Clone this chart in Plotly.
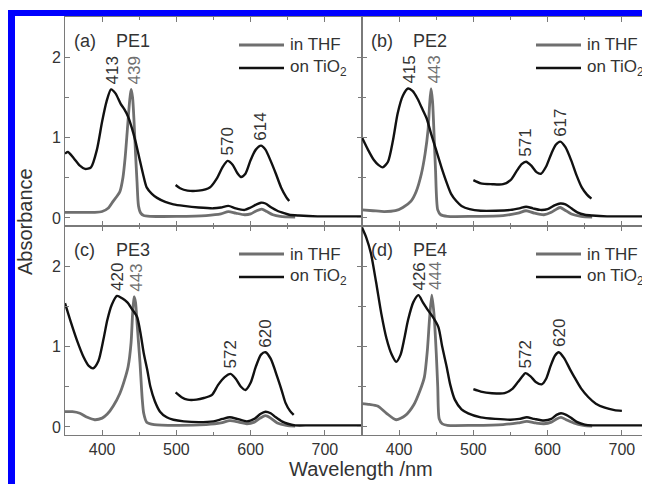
import plotly.graph_objects as go

# page body has an 8px margin; the figure fills the rest of the 650x484 window
OFF = 8
W, H = 650 - OFF, 484 - OFF

# ---------------- data ----------------
panel_tags = ["(a)", "(b)", "(c)", "(d)"]
panel_names = ["PE1", "PE2", "PE3", "PE4"]

# Panel (a) PE1
a_tio2_wl = [350, 354, 362, 370, 377, 385, 393, 400, 406, 412, 418, 425, 430, 435, 440, 445, 450, 455, 460, 467, 474, 485, 496, 510, 530, 550, 560, 570, 580, 592, 600, 608, 614, 620, 628, 636, 645, 652, 665, 690, 720, 750]
a_tio2_ab = [0.80, 0.82, 0.74, 0.65, 0.61, 0.63, 0.85, 1.20, 1.45, 1.60, 1.55, 1.42, 1.35, 1.26, 1.12, 0.95, 0.75, 0.55, 0.38, 0.30, 0.25, 0.20, 0.17, 0.15, 0.13, 0.12, 0.13, 0.15, 0.12, 0.10, 0.13, 0.17, 0.19, 0.18, 0.13, 0.09, 0.06, 0.04, 0.03, 0.02, 0.02, 0.02]
a_zoom_wl = [499, 505, 515, 530, 545, 555, 562, 569, 576, 582, 587, 593, 600, 607, 614, 620, 627, 634, 641, 648, 652]
a_zoom_ab = [0.41, 0.37, 0.34, 0.34, 0.38, 0.50, 0.63, 0.71, 0.66, 0.56, 0.51, 0.55, 0.72, 0.85, 0.90, 0.85, 0.71, 0.55, 0.38, 0.26, 0.21]
a_thf_wl = [350, 370, 390, 400, 408, 415, 420, 424, 428, 431, 434, 437, 439, 441, 443, 445, 447, 449, 452, 456, 465, 500, 540, 560, 570, 580, 592, 600, 608, 615, 622, 630, 640, 660]
a_thf_ab = [0.07, 0.07, 0.07, 0.08, 0.12, 0.21, 0.27, 0.33, 0.50, 0.75, 1.10, 1.45, 1.60, 1.50, 1.20, 0.80, 0.45, 0.15, 0.06, 0.03, 0.02, 0.02, 0.03, 0.05, 0.08, 0.06, 0.04, 0.05, 0.09, 0.11, 0.08, 0.04, 0.02, 0.01]

# Panel (b) PE2
b_tio2_wl = [350, 358, 366, 372, 378, 385, 392, 398, 405, 412, 418, 425, 430, 437, 443, 450, 457, 464, 470, 477, 484, 495, 510, 530, 550, 562, 571, 580, 590, 600, 610, 617, 624, 632, 640, 650, 660, 680, 710, 750]
b_tio2_ab = [1.00, 0.85, 0.72, 0.66, 0.63, 0.70, 0.98, 1.30, 1.52, 1.61, 1.58, 1.48, 1.38, 1.24, 1.05, 0.84, 0.63, 0.44, 0.30, 0.21, 0.15, 0.11, 0.09, 0.09, 0.10, 0.12, 0.14, 0.12, 0.10, 0.11, 0.16, 0.18, 0.17, 0.12, 0.07, 0.04, 0.03, 0.02, 0.02, 0.02]
b_zoom_wl = [500, 510, 525, 540, 550, 558, 565, 571, 578, 585, 591, 598, 605, 611, 617, 624, 632, 639, 646, 653, 659]
b_zoom_ab = [0.47, 0.43, 0.42, 0.42, 0.47, 0.58, 0.67, 0.70, 0.65, 0.57, 0.55, 0.64, 0.80, 0.91, 0.95, 0.88, 0.71, 0.53, 0.38, 0.29, 0.24]
b_thf_wl = [350, 365, 380, 395, 405, 416, 423, 430, 435, 439, 441, 443, 445, 447, 449, 452, 456, 465, 500, 540, 560, 571, 582, 595, 605, 612, 617, 623, 632, 645, 660]
b_thf_ab = [0.10, 0.09, 0.08, 0.09, 0.13, 0.21, 0.33, 0.55, 0.80, 1.10, 1.40, 1.61, 1.45, 1.05, 0.60, 0.10, 0.04, 0.02, 0.02, 0.03, 0.06, 0.09, 0.06, 0.04, 0.07, 0.11, 0.13, 0.10, 0.05, 0.02, 0.01]

# Panel (c) PE3
c_tio2_wl = [350, 358, 366, 375, 382, 388, 395, 402, 407, 413, 420, 427, 434, 440, 447, 452, 456, 461, 465, 471, 478, 487, 496, 510, 530, 550, 562, 572, 582, 595, 605, 613, 620, 627, 634, 642, 650, 660, 680, 710, 750]
c_tio2_ab = [1.54, 1.30, 1.08, 0.87, 0.76, 0.73, 0.82, 1.10, 1.33, 1.52, 1.63, 1.60, 1.55, 1.47, 1.37, 1.15, 0.92, 0.70, 0.50, 0.32, 0.19, 0.12, 0.09, 0.07, 0.06, 0.07, 0.10, 0.12, 0.10, 0.07, 0.10, 0.16, 0.19, 0.17, 0.12, 0.07, 0.04, 0.02, 0.02, 0.02, 0.02]
c_zoom_wl = [499, 507, 515, 527, 537, 548, 556, 565, 573, 580, 587, 593, 600, 607, 614, 620, 627, 636, 642, 647, 653, 658]
c_zoom_ab = [0.43, 0.37, 0.34, 0.34, 0.36, 0.40, 0.52, 0.62, 0.66, 0.60, 0.50, 0.46, 0.55, 0.75, 0.90, 0.93, 0.85, 0.62, 0.45, 0.30, 0.20, 0.15]
c_thf_wl = [350, 360, 370, 380, 390, 400, 407, 415, 424, 430, 435, 439, 441, 443, 445, 447, 449, 451, 454, 456, 460, 470, 500, 540, 560, 572, 584, 595, 605, 613, 620, 627, 636, 648, 660]
c_thf_ab = [0.19, 0.19, 0.17, 0.12, 0.09, 0.11, 0.16, 0.26, 0.42, 0.58, 0.75, 1.05, 1.40, 1.62, 1.55, 1.30, 1.05, 0.80, 0.35, 0.17, 0.06, 0.03, 0.02, 0.03, 0.05, 0.08, 0.06, 0.04, 0.06, 0.11, 0.14, 0.11, 0.05, 0.02, 0.01]

# Panel (d) PE4
d_tio2_wl = [350, 356, 362, 369, 376, 383, 390, 396, 402, 407, 412, 419, 426, 432, 439, 446, 453, 458, 464, 469, 475, 484, 493, 510, 530, 550, 562, 572, 582, 595, 605, 612, 618, 625, 632, 640, 650, 660, 680, 710, 750]
d_tio2_ab = [2.48, 2.35, 2.16, 1.80, 1.41, 1.10, 0.90, 0.81, 0.90, 1.10, 1.33, 1.55, 1.64, 1.55, 1.45, 1.36, 1.24, 1.00, 0.75, 0.52, 0.34, 0.22, 0.17, 0.12, 0.10, 0.09, 0.10, 0.12, 0.10, 0.08, 0.10, 0.15, 0.17, 0.15, 0.11, 0.06, 0.03, 0.02, 0.02, 0.02, 0.02]
d_zoom_wl = [500, 510, 525, 542, 552, 560, 566, 570, 577, 584, 592, 598, 604, 610, 615, 622, 630, 636, 645, 655, 665, 677, 690, 700]
d_zoom_ab = [0.47, 0.44, 0.42, 0.42, 0.47, 0.56, 0.63, 0.67, 0.63, 0.56, 0.53, 0.60, 0.76, 0.89, 0.93, 0.86, 0.72, 0.62, 0.48, 0.37, 0.29, 0.24, 0.21, 0.20]
d_thf_wl = [350, 360, 371, 383, 396, 408, 420, 428, 434, 438, 441, 444, 447, 450, 452, 454, 458, 465, 500, 540, 560, 572, 584, 595, 605, 612, 618, 625, 635, 648, 660]
d_thf_ab = [0.29, 0.28, 0.26, 0.17, 0.09, 0.14, 0.28, 0.45, 0.62, 0.95, 1.35, 1.64, 1.40, 0.92, 0.50, 0.10, 0.04, 0.02, 0.02, 0.03, 0.05, 0.07, 0.05, 0.04, 0.06, 0.10, 0.12, 0.09, 0.05, 0.02, 0.01]

# peak labels: (Soret TiO2, Soret THF, Q1, Q2)
soret_tio2 = [413, 415, 420, 426]
soret_thf = [439, 443, 443, 444]
q1_peaks = [570, 571, 572, 572]
q2_peaks = [614, 617, 620, 620]

tick_vals_x = [400, 500, 600, 700]
tick_vals_y = [0, 1, 2]

# ---------------- styling ----------------
GRAY = "#6f6f6f"
BLACK = "#111111"
AXIS = "#7a7a7a"
TXT = "#333333"
FONT = "Liberation Sans, Arial, sans-serif"

panels = [
    (a_thf_wl, a_thf_ab, a_tio2_wl, a_tio2_ab, a_zoom_wl, a_zoom_ab),
    (b_thf_wl, b_thf_ab, b_tio2_wl, b_tio2_ab, b_zoom_wl, b_zoom_ab),
    (c_thf_wl, c_thf_ab, c_tio2_wl, c_tio2_ab, c_zoom_wl, c_zoom_ab),
    (d_thf_wl, d_thf_ab, d_tio2_wl, d_tio2_ab, d_zoom_wl, d_zoom_ab),
]

# pixel geometry (window pixels)
x_left_px = [65, 362, 65, 362]
x_right_px = [362, 650, 362, 650]
y_top_px = [17, 17, 226, 226]
y_bot_px = [226, 226, 435, 435]
px_per_nm = (362 - 65) / 400.0

def px(xp):
    return (xp - OFF) / W

def py(yp):
    return 1 - (yp - OFF) / H

def local_peak(wl_list, ab_list, target, win=8):
    """Position and height of the highest sampled point near the nominal peak."""
    idx = [k for k in range(len(wl_list)) if abs(wl_list[k] - target) <= win]
    j = max(idx, key=lambda k: ab_list[k])
    return wl_list[j], ab_list[j]

fig = go.Figure()
line_kw = dict(shape="spline", smoothing=0.7)

for i, (thf_w, thf_a, ti_w, ti_a, z_w, z_a) in enumerate(panels):
    n = "" if i == 0 else str(i + 1)
    xa, ya = "x" + n, "y" + n
    fig.add_trace(go.Scatter(x=thf_w, y=thf_a, mode="lines", xaxis=xa, yaxis=ya,
                             line=dict(color=GRAY, width=2.8, **line_kw), showlegend=False))
    fig.add_trace(go.Scatter(x=ti_w, y=ti_a, mode="lines", xaxis=xa, yaxis=ya,
                             line=dict(color=BLACK, width=2.4, **line_kw), showlegend=False))
    fig.add_trace(go.Scatter(x=z_w, y=z_a, mode="lines", xaxis=xa, yaxis=ya,
                             line=dict(color=BLACK, width=2.4, **line_kw), showlegend=False))

    xr_max = 350 + (x_right_px[i] - x_left_px[i]) / px_per_nm
    bottom = i >= 2
    left = i % 2 == 0
    fig.layout["xaxis" + n] = dict(
        domain=[px(x_left_px[i]), min(1.0, px(x_right_px[i]))], range=[350, xr_max],
        anchor=ya, showline=True, linecolor=AXIS, linewidth=1, mirror="ticks",
        ticks="inside", ticklen=5, tickcolor=AXIS, tickvals=tick_vals_x,
        showticklabels=bottom, tickfont=dict(family=FONT, size=16, color=TXT),
        minor=dict(dtick=50, tick0=350, ticks="inside", ticklen=3, tickcolor=AXIS),
        showgrid=False, zeroline=False, fixedrange=True,
    )
    fig.layout["yaxis" + n] = dict(
        domain=[py(y_bot_px[i]), py(y_top_px[i])], range=[-0.1, 2.5],
        anchor=xa, showline=True, linecolor=AXIS, linewidth=1, mirror="ticks",
        ticks="inside", ticklen=5, tickcolor=AXIS, tickvals=tick_vals_y,
        showticklabels=left, tickfont=dict(family=FONT, size=16, color=TXT),
        minor=dict(dtick=0.5, tick0=0, ticks="inside", ticklen=4, tickcolor=AXIS),
        showgrid=False, zeroline=False, fixedrange=True,
    )

    # panel tag and name
    fig.add_annotation(x=px(x_left_px[i] + 7), y=py(y_top_px[i] + 24), xref="paper", yref="paper",
                       text=panel_tags[i], showarrow=False, xanchor="left", yanchor="middle",
                       font=dict(family=FONT, size=18, color=TXT))
    fig.add_annotation(x=px(x_left_px[i] + 49), y=py(y_top_px[i] + 24), xref="paper", yref="paper",
                       text=panel_names[i], showarrow=False, xanchor="left", yanchor="middle",
                       font=dict(family=FONT, size=18, color=TXT))

    # legend
    for k, (lbl, col) in enumerate([("in THF", GRAY), ("on TiO<sub>2</sub>", BLACK)]):
        yy = py(y_top_px[i] + 28 + 23 * k)
        fig.add_shape(type="line", xref="paper", yref="paper",
                      x0=px(x_left_px[i] + 174), x1=px(x_left_px[i] + 219), y0=yy, y1=yy,
                      line=dict(color=col, width=2.8 if k == 0 else 2.4))
        fig.add_annotation(x=px(x_left_px[i] + 223), y=yy, xref="paper", yref="paper",
                           text=lbl, showarrow=False, xanchor="left", yanchor="middle",
                           font=dict(family=FONT, size=17, color=TXT))

    # peak labels
    labels = [
        (soret_tio2[i], local_peak(ti_w, ti_a, soret_tio2[i]), TXT, 1),
        (soret_thf[i], local_peak(thf_w, thf_a, soret_thf[i]), GRAY, 3),
        (q1_peaks[i], local_peak(z_w, z_a, q1_peaks[i]), TXT, 0),
        (q2_peaks[i], local_peak(z_w, z_a, q2_peaks[i]), TXT, 0),
    ]
    for lab, (wl, ab), col, xs in labels:
        fig.add_annotation(x=wl, y=ab, xref=xa, yref=ya, text=str(lab), textangle=-90,
                           showarrow=False, xanchor="center", yanchor="bottom", yshift=3, xshift=xs,
                           font=dict(family=FONT, size=17, color=col))

# axis titles
fig.add_annotation(x=px(361), y=py(469), xref="paper", yref="paper", text="Wavelength /nm",
                   showarrow=False, xanchor="center", yanchor="middle",
                   font=dict(family=FONT, size=20, color=TXT))
fig.add_annotation(x=px(25), y=py(222), xref="paper", yref="paper", text="Absorbance",
                   textangle=-90, showarrow=False, xanchor="center", yanchor="middle",
                   font=dict(family=FONT, size=20, color=TXT))

# blue frame
fig.add_shape(type="rect", xref="paper", yref="paper", x0=px(8), x1=px(650), y0=py(16), y1=py(10),
              fillcolor="#0000ff", line=dict(width=0), layer="above")
fig.add_shape(type="rect", xref="paper", yref="paper", x0=px(8), x1=px(15), y0=py(484), y1=py(10),
              fillcolor="#0000ff", line=dict(width=0), layer="above")

fig.update_layout(width=W, height=H, margin=dict(l=0, r=0, t=0, b=0),
                  paper_bgcolor="white", plot_bgcolor="white", showlegend=False)

fig.write_html("out.html", config={"displayModeBar": False})
